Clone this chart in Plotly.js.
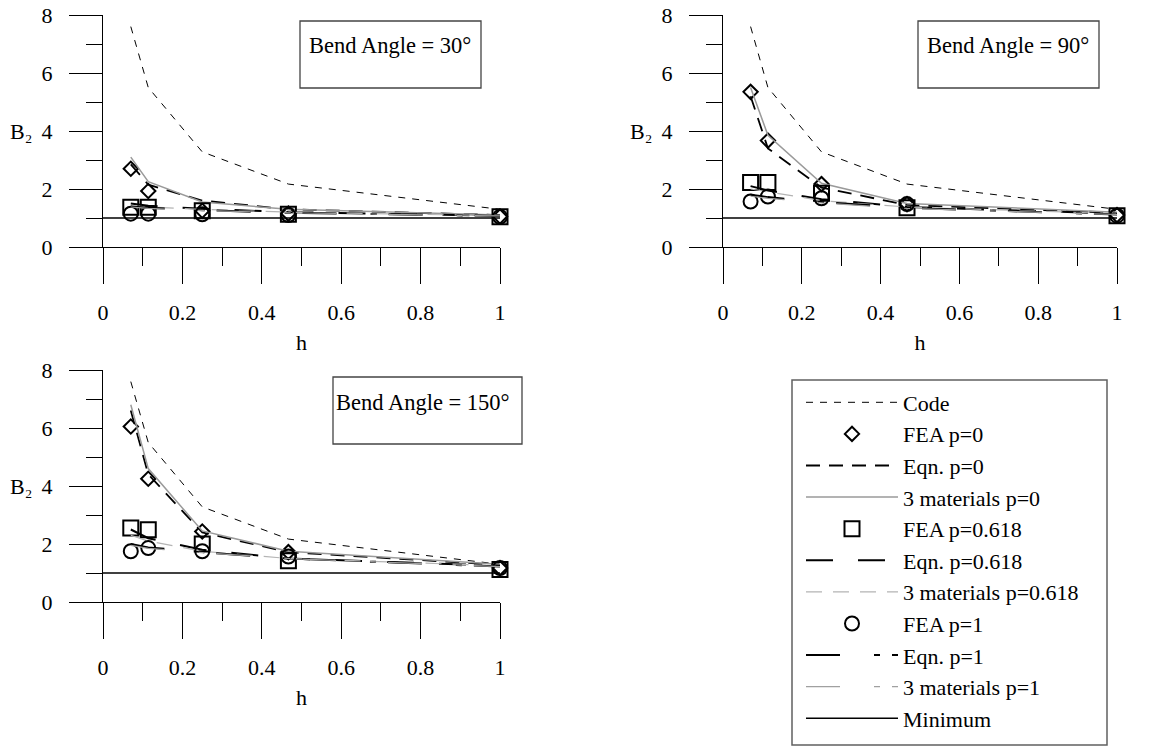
<!DOCTYPE html>
<html>
<head>
<meta charset="utf-8">
<script src="https://cdn.plot.ly/plotly-3.0.1.min.js"></script>
<style>
html, body { margin: 0; padding: 0; background: #ffffff; }
#chart { width: 1163px; height: 746px; }
</style>
</head>
<body>
<div id="chart"></div>
<script>
// ---------------- DATA ----------------
const hValues = [0.07, 0.114, 0.25, 0.467, 1];
const minimumH = [0, 1];
const minimumB2 = [1, 1];

const seriesNames = ['Code', 'FEA p=0', 'Eqn. p=0', '3 materials p=0',
  'FEA p=0.618', 'Eqn. p=0.618', '3 materials p=0.618',
  'FEA p=1', 'Eqn. p=1', '3 materials p=1', 'Minimum'];

const angleLabels = ['Bend Angle = 30°', 'Bend Angle = 90°', 'Bend Angle = 150°'];
const xTitle = 'h';
const yLabel = 'B₂';

// Bend angle 30
const code30 = [7.6, 5.5, 3.28, 2.17, 1.3];
const fea0_30 = [2.7, 1.93, 1.25, 1.15, 1.05];
const eqn0_30 = [2.85, 2.15, 1.6, 1.3, 1.1];
const mat0_30 = [3.1, 2.25, 1.55, 1.3, 1.1];
const fea618_30 = [1.37, 1.37, 1.25, 1.13, 1.04];
const eqn618_30 = [1.5, 1.42, 1.32, 1.2, 1.08];
const mat618_30 = [1.42, 1.38, 1.3, 1.2, 1.08];
const fea1_30 = [1.15, 1.15, 1.13, 1.1, 1.04];
const eqn1_30 = [1.4, 1.35, 1.27, 1.18, 1.07];
const mat1_30 = [1.38, 1.33, 1.26, 1.18, 1.07];

// Bend angle 90
const code90 = [7.6, 5.5, 3.28, 2.17, 1.3];
const fea0_90 = [5.35, 3.67, 2.17, 1.48, 1.1];
const eqn0_90 = [5.2, 3.4, 2.05, 1.45, 1.18];
const mat0_90 = [5.5, 3.85, 2.2, 1.5, 1.2];
const fea618_90 = [2.22, 2.22, 1.85, 1.35, 1.08];
const eqn618_90 = [2.1, 1.95, 1.65, 1.38, 1.15];
const mat618_90 = [2.0, 1.9, 1.6, 1.38, 1.15];
const fea1_90 = [1.57, 1.74, 1.68, 1.48, 1.08];
const eqn1_90 = [1.8, 1.72, 1.55, 1.35, 1.12];
const mat1_90 = [1.75, 1.68, 1.52, 1.33, 1.12];

// Bend angle 150
const code150 = [7.6, 5.5, 3.28, 2.17, 1.3];
const fea0_150 = [6.05, 4.25, 2.43, 1.72, 1.17];
const eqn0_150 = [6.6, 4.4, 2.4, 1.72, 1.28];
const mat0_150 = [6.8, 4.6, 2.45, 1.75, 1.3];
const fea618_150 = [2.55, 2.49, 2.0, 1.42, 1.12];
const eqn618_150 = [2.5, 2.2, 1.8, 1.5, 1.25];
const mat618_150 = [2.3, 2.1, 1.75, 1.5, 1.25];
const fea1_150 = [1.75, 1.86, 1.75, 1.57, 1.17];
const eqn1_150 = [2.0, 1.88, 1.72, 1.5, 1.22];
const mat1_150 = [1.95, 1.85, 1.7, 1.5, 1.22];

// ---------------- STYLES ----------------
const FONT = 'Liberation Serif, Times New Roman, serif';
const W = 1163, H = 746;

const styles = [
  { mode: 'lines', line: { color: '#000', width: 1, dash: '7px,7px' } },
  { mode: 'markers', marker: { symbol: 'diamond-open', size: 11, color: '#000', line: { color: '#000', width: 2 } } },
  { mode: 'lines', line: { color: '#000', width: 1.8, dash: '14px,9px' } },
  { mode: 'lines', line: { color: '#9a9a9a', width: 1.5 } },
  { mode: 'markers', marker: { symbol: 'square-open', size: 15, color: '#000', line: { color: '#000', width: 2 } } },
  { mode: 'lines', line: { color: '#000', width: 2, dash: '27px,25px' } },
  { mode: 'lines', line: { color: '#b4b4b4', width: 1.2, dash: '16px,11px' } },
  { mode: 'markers', marker: { symbol: 'circle-open', size: 14, color: '#000', line: { color: '#000', width: 2 } } },
  { mode: 'lines', line: { color: '#000', width: 2, dash: '34px,34px,6px,12px' } },
  { mode: 'lines', line: { color: '#a0a0a0', width: 1.2, dash: '34px,34px,6px,12px' } },
  { mode: 'lines', line: { color: '#000', width: 1.5 } }
];

const panels = [
  { xa: 'x', ya: 'y', series: [code30, fea0_30, eqn0_30, mat0_30, fea618_30, eqn618_30, mat618_30, fea1_30, eqn1_30, mat1_30] },
  { xa: 'x2', ya: 'y2', series: [code90, fea0_90, eqn0_90, mat0_90, fea618_90, eqn618_90, mat618_90, fea1_90, eqn1_90, mat1_90] },
  { xa: 'x3', ya: 'y3', series: [code150, fea0_150, eqn0_150, mat0_150, fea618_150, eqn618_150, mat618_150, fea1_150, eqn1_150, mat1_150] }
];

const traces = [];
panels.forEach((p, pi) => {
  seriesNames.forEach((name, si) => {
    const isMin = si === seriesNames.length - 1;
    traces.push(Object.assign({
      type: 'scatter',
      name: name,
      x: isMin ? minimumH : hValues,
      y: isMin ? minimumB2 : p.series[si],
      xaxis: p.xa,
      yaxis: p.ya,
      legendgroup: name,
      showlegend: pi === 0,
      cliponaxis: false
    }, JSON.parse(JSON.stringify(styles[si]))));
  });
});

function xAxis(domain, anchor) {
  return {
    domain: domain, anchor: anchor,
    range: [0, 1], tick0: 0, dtick: 0.2,
    ticks: 'outside', ticklen: 36, tickwidth: 1, tickcolor: '#000',
    minor: { tick0: 0, dtick: 0.1, ticks: 'outside', ticklen: 18, tickwidth: 1, tickcolor: '#000', showgrid: false },
    showline: true, linecolor: '#000', linewidth: 1,
    showgrid: false, zeroline: false,
    ticklabelstandoff: 10,
    tickfont: { family: FONT, size: 22, color: '#000' },
    title: { text: xTitle, font: { family: FONT, size: 22, color: '#000' }, standoff: 10 },
    fixedrange: true
  };
}
function yAxis(domain, anchor) {
  return {
    domain: domain, anchor: anchor,
    range: [0, 8], tick0: 0, dtick: 2,
    ticks: 'outside', ticklen: 33, tickwidth: 1, tickcolor: '#000',
    minor: { tick0: 0, dtick: 1, ticks: 'outside', ticklen: 16, tickwidth: 1, tickcolor: '#000', showgrid: false },
    showline: true, linecolor: '#000', linewidth: 1,
    showgrid: false, zeroline: false,
    ticklabelstandoff: 12,
    tickfont: { family: FONT, size: 22, color: '#000' },
    fixedrange: true
  };
}

const xdLeft = [103 / W, 500 / W];
const xdRight = [723 / W, 1117 / W];
const ydTop = [1 - 247 / H, 1 - 15 / H];
const ydBottom = [1 - 602 / H, 1 - 370 / H];

const boxes = [
  { x0: 300, x1: 481, y0: 21, y1: 88, tx: 390, ty: 45 },
  { x0: 918, x1: 1099, y0: 21, y1: 88, tx: 1008, ty: 45 },
  { x0: 333, x1: 522, y0: 377, y1: 444, tx: 423, ty: 402 }
];

const shapes = boxes.map(b => ({
  type: 'rect', xref: 'paper', yref: 'paper',
  x0: b.x0 / W, x1: b.x1 / W, y0: 1 - b.y1 / H, y1: 1 - b.y0 / H,
  line: { color: '#444', width: 1.3 }
}));
// legend frame
shapes.push({
  type: 'rect', xref: 'paper', yref: 'paper',
  x0: 792 / W, x1: 1107 / W, y0: 1 - 745 / H, y1: 1 - 380 / H,
  line: { color: '#606060', width: 1.5 }
});

const annotations = boxes.map((b, i) => ({
  xref: 'paper', yref: 'paper', x: b.tx / W, y: 1 - b.ty / H,
  xanchor: 'center', yanchor: 'middle', showarrow: false,
  text: angleLabels[i], font: { family: FONT, size: 22.5, color: '#000' }
}));

[['x', 'y'], ['x2', 'y2'], ['x3', 'y3']].forEach(([xa, ya]) => {
  annotations.push({
    xref: xa + ' domain', yref: ya, x: 0, y: 4,
    xanchor: 'right', yanchor: 'middle', xshift: -69, yshift: 0, showarrow: false,
    text: yLabel, font: { family: FONT, size: 22, color: '#000' }
  });
});

const layout = {
  width: W, height: H,
  margin: { l: 0, r: 0, t: 0, b: 0, pad: 0 },
  paper_bgcolor: '#ffffff', plot_bgcolor: '#ffffff',
  font: { family: FONT, size: 22, color: '#000' },
  xaxis: xAxis(xdLeft, 'y'),
  yaxis: yAxis(ydTop, 'x'),
  xaxis2: xAxis(xdRight, 'y2'),
  yaxis2: yAxis(ydTop, 'x2'),
  xaxis3: xAxis(xdLeft, 'y3'),
  yaxis3: yAxis(ydBottom, 'x3'),
  showlegend: true,
  legend: {
    x: 792 / W, y: 1 - 381.5 / H, xanchor: 'left', yanchor: 'top',
    bgcolor: 'rgba(0,0,0,0)', borderwidth: 0,
    font: { family: FONT, size: 22, color: '#000' },
    traceorder: 'normal', tracegroupgap: 0,
    itemwidth: 92, indentation: 9
  },
  shapes: shapes,
  annotations: annotations
};

Plotly.newPlot('chart', traces, layout, { displayModeBar: false });
</script>
</body>
</html>
